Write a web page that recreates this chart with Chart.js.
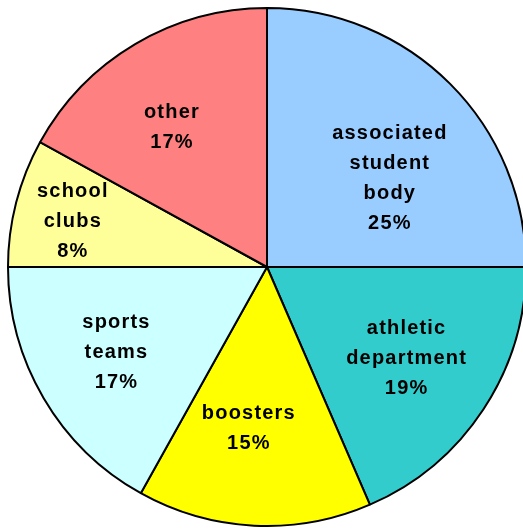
<!DOCTYPE html>
<html lang="en">
<head>
    <meta charset="UTF-8">
    <title>Funding sources</title>
    <script src="https://cdn.jsdelivr.net/npm/chart.js"></script>
    <style>
        * { margin: 0; padding: 0; box-sizing: border-box; }
        body { background: #ffffff; width: 523px; height: 529px; overflow: hidden; }
        canvas { display: block; }
    </style>
</head>
<body>
    <canvas id="grafico" width="523" height="529"></canvas>

    <script>
        const categories = [
            ["associated", "student", "body"],
            ["athletic", "department"],
            ["boosters"],
            ["sports", "teams"],
            ["school", "clubs"],
            ["other"]
        ];
        const values = [25, 18.5, 14.6, 16.9, 8, 17];
        const percentLabels = ["25%", "19%", "15%", "17%", "8%", "17%"];
        const colors = ["#99CCFF", "#33CCCC", "#FFFF00", "#CCFFFF", "#FFFF99", "#FF8080"];
        // label placement: fraction of radius along the mid angle, plus a small nudge
        const labelRadius = [0.6, 0.645, 0.625, 0.665, 0.77, 0.63];
        const labelNudge = [[13, 21], [0, 0], [-10, 0], [-2, -2], [-1, 4], [-12, 1]];

        const pieLabels = {
            id: 'pieLabels',
            afterDatasetsDraw(chart) {
                const ctx = chart.ctx;
                const meta = chart.getDatasetMeta(0);
                ctx.save();
                ctx.font = 'bold 20px "Liberation Sans", Arial, sans-serif';
                ctx.letterSpacing = '1.2px';
                ctx.fillStyle = '#000';
                ctx.textAlign = 'center';
                ctx.textBaseline = 'middle';
                meta.data.forEach((arc, i) => {
                    const mid = (arc.startAngle + arc.endAngle) / 2;
                    const r = arc.outerRadius * labelRadius[i];
                    const x = arc.x + Math.cos(mid) * r + labelNudge[i][0];
                    const y = arc.y + Math.sin(mid) * r + labelNudge[i][1];
                    const lines = categories[i].concat([percentLabels[i]]);
                    const lh = 30;
                    lines.forEach((t, k) => {
                        ctx.fillText(t, x, y + (k - (lines.length - 1) / 2) * lh);
                    });
                });
                ctx.restore();
            }
        };

        new Chart(document.getElementById('grafico'), {
            type: 'pie',
            data: {
                labels: categories.map(c => c.join(' ')),
                datasets: [{
                    data: values,
                    backgroundColor: colors,
                    borderColor: '#000',
                    borderWidth: 2,
                    borderAlign: 'center',
                    clip: false
                }]
            },
            options: {
                responsive: false,
                animation: false,
                radius: 259,
                layout: { padding: { left: 11, top: 5, right: 0, bottom: 0 } },
                plugins: {
                    legend: { display: false },
                    tooltip: { enabled: false }
                }
            },
            plugins: [pieLabels]
        });
    </script>
</body>
</html>
